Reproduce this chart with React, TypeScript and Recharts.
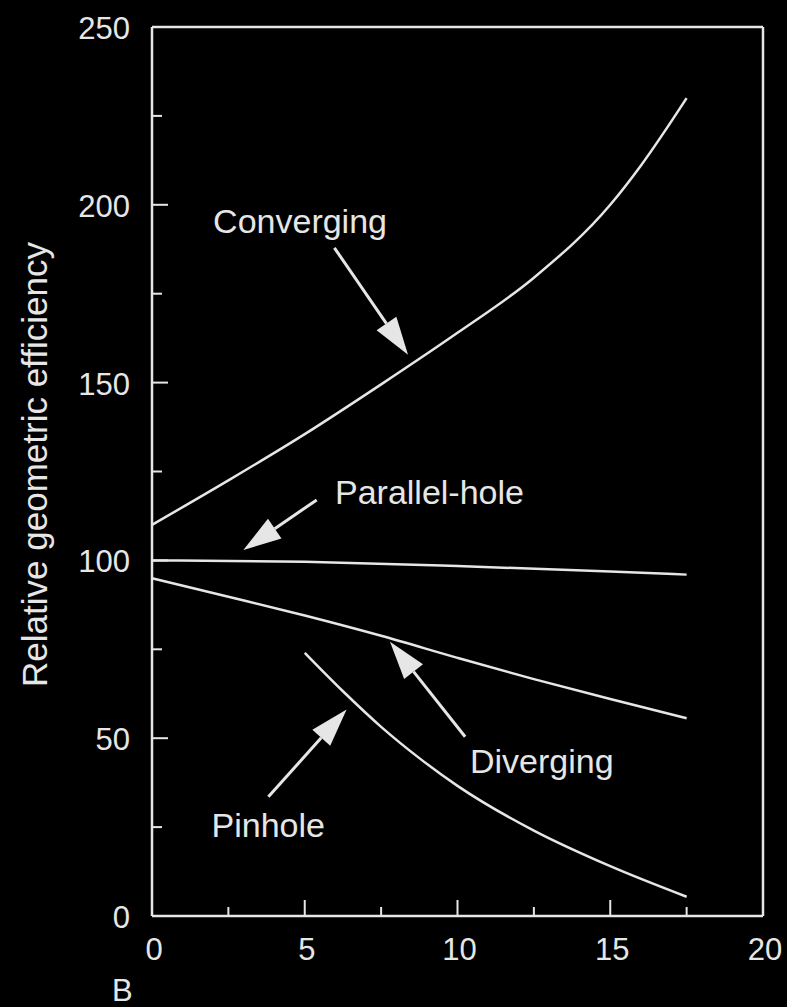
import {
  Line,
  LineChart,
  ReferenceDot,
  ReferenceLine,
  XAxis,
  YAxis,
} from "recharts"

const INK = "#e6e6e6"
const FONT = "'Liberation Sans', Arial, Helvetica, sans-serif"

// efficiency vs. source distance, one array pair per collimator
const convergingX = [0, 2.5, 5, 7.5, 10, 12.5, 15, 16, 17.5]
const convergingY = [110, 122.5, 135.5, 149.5, 164, 179.5, 200, 211, 230]

const parallelX = [0, 5, 10, 15, 17.5]
const parallelY = [100, 99.6, 98.4, 96.9, 96]

const divergingX = [0, 2.5, 5, 7.5, 10, 12.5, 15, 17.5]
const divergingY = [95, 89.8, 84.5, 78.8, 72.6, 66.6, 61, 55.6]

const pinholeX = [5, 6.25, 7.5, 8.75, 10, 12.5, 15, 17.5]
const pinholeY = [74, 63.2, 53.2, 44.4, 36.6, 24, 14, 5.4]

const xTicks = [0, 2.5, 5, 7.5, 10, 12.5, 15, 17.5, 20]
const yTicks = [0, 25, 50, 75, 100, 125, 150, 175, 200, 225, 250]

// callouts: label anchor (left, baseline) and arrow tail -> tip
const callouts = [
  { text: "Converging", at: [2.0, 192], tail: [5.97, 187.9], tip: [8.38, 157.8] },
  { text: "Parallel-hole", at: [5.99, 116], tail: [5.39, 117], tip: [2.99, 102.9] },
  { text: "Diverging", at: [10.41, 40.2], tail: [10.25, 50.4], tip: [7.79, 77.1] },
  { text: "Pinhole", at: [1.95, 22.3], tail: [3.81, 33.5], tip: [6.37, 58.1] },
]

const toPoints = (xs: number[], ys: number[]) =>
  xs.map((x, i) => ({ x, y: ys[i] }))

const series = [
  { name: "Converging", data: toPoints(convergingX, convergingY) },
  { name: "Parallel-hole", data: toPoints(parallelX, parallelY) },
  { name: "Diverging", data: toPoints(divergingX, divergingY) },
  { name: "Pinhole", data: toPoints(pinholeX, pinholeY) },
]

const XTick = (props: any) => {
  const { x, y, payload } = props
  const v = payload.value as number
  const major = v % 5 === 0
  return (
    <g>
      {v > 0 && v < 20 && (
        <line x1={x} y1={y} x2={x} y2={y - (major ? 16 : 9)} stroke={INK} strokeWidth={2} />
      )}
      {major && (
        <text x={x + 2} y={y + 44} textAnchor="middle" fill={INK} fontSize={31} fontFamily={FONT}>
          {v}
        </text>
      )}
    </g>
  )
}

const YTick = (props: any) => {
  const { x, y, payload } = props
  const v = payload.value as number
  const major = v % 50 === 0
  return (
    <g>
      {v > 0 && v < 250 && (
        <line x1={x} y1={y} x2={x + (major ? 16 : 10)} y2={y} stroke={INK} strokeWidth={2} />
      )}
      {major && (
        <text x={x - 22} y={y + 12} textAnchor="end" fill={INK} fontSize={31} fontFamily={FONT}>
          {v}
        </text>
      )}
    </g>
  )
}

const Arrow = (props: any) => {
  const { x1, y1, x2, y2 } = props
  const len = Math.hypot(x2 - x1, y2 - y1)
  const ux = (x2 - x1) / len
  const uy = (y2 - y1) / len
  const head = 38
  const half = 12
  const bx = x2 - ux * head
  const by = y2 - uy * head
  return (
    <g>
      <line x1={x1} y1={y1} x2={bx} y2={by} stroke={INK} strokeWidth={3} />
      <polygon
        points={`${x2},${y2} ${bx - uy * half},${by + ux * half} ${bx + uy * half},${by - ux * half}`}
        fill={INK}
      />
    </g>
  )
}

const calloutText = (text: string) => (props: any) => (
  <text x={props.cx} y={props.cy} fill={INK} fontSize={34} fontFamily={FONT}>
    {text}
  </text>
)

const App = () => (
  <div
    style={{
      position: "absolute",
      left: 0,
      top: 0,
      width: 787,
      height: 1007,
      background: "#000",
    }}
  >
    <LineChart
      width={787}
      height={1007}
      margin={{ top: 27, right: 24, bottom: 0, left: 0 }}
    >
      <XAxis
        dataKey="x"
        type="number"
        domain={[0, 20]}
        ticks={xTicks}
        interval={0}
        height={91}
        tickSize={0}
        tickMargin={0}
        tickLine={false}
        tick={<XTick />}
        axisLine={{ stroke: INK, strokeWidth: 2.5 }}
        allowDuplicatedCategory={false}
      />
      <YAxis
        type="number"
        domain={[0, 250]}
        ticks={yTicks}
        interval={0}
        width={152}
        tickSize={0}
        tickMargin={0}
        tickLine={false}
        tick={<YTick />}
        axisLine={{ stroke: INK, strokeWidth: 2.5 }}
        label={{
          value: "Relative geometric efficiency",
          angle: -90,
          position: "center",
          dx: -41,
          dy: -7,
          fill: INK,
          fontSize: 35,
          fontFamily: FONT,
        }}
      />
      {/* closed frame: top and right edges */}
      <ReferenceLine y={250} stroke={INK} strokeWidth={2.5} ifOverflow="visible" />
      <ReferenceLine x={20} stroke={INK} strokeWidth={2.5} ifOverflow="visible" />
      {series.map((s) => (
        <Line
          key={s.name}
          data={s.data}
          dataKey="y"
          name={s.name}
          type="monotone"
          stroke={INK}
          strokeWidth={2.5}
          dot={false}
          isAnimationActive={false}
        />
      ))}
      {callouts.map((c) => (
        <ReferenceLine
          key={`arrow-${c.text}`}
          segment={[
            { x: c.tail[0], y: c.tail[1] },
            { x: c.tip[0], y: c.tip[1] },
          ]}
          ifOverflow="visible"
          shape={<Arrow />}
        />
      ))}
      {callouts.map((c) => (
        <ReferenceDot
          key={`label-${c.text}`}
          x={c.at[0]}
          y={c.at[1]}
          ifOverflow="visible"
          shape={calloutText(c.text)}
        />
      ))}
    </LineChart>
    <div
      style={{
        position: "absolute",
        left: 112,
        top: 973,
        color: INK,
        fontFamily: FONT,
        fontSize: 31,
        lineHeight: "36px",
      }}
    >
      B
    </div>
  </div>
)

export default App
